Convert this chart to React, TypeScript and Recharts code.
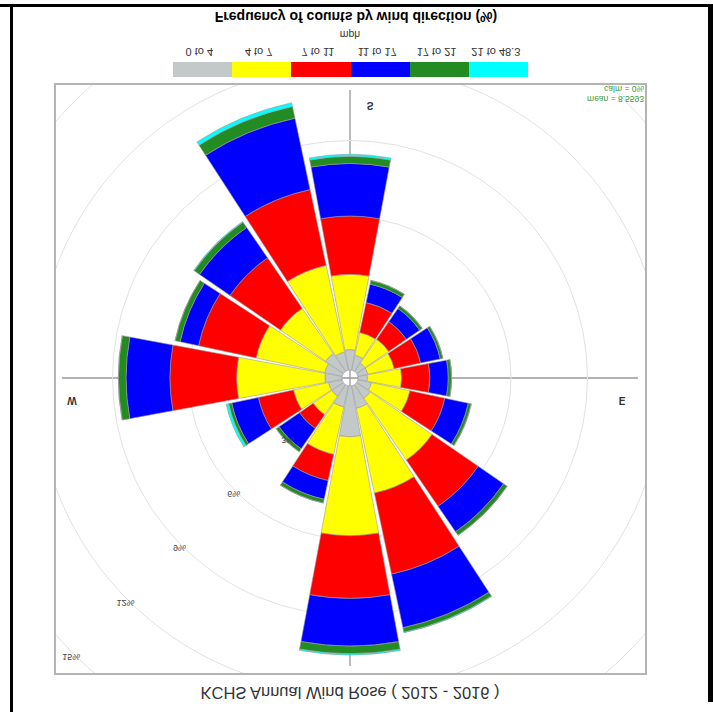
import React from "react";
import {
  RadialBarChart,
  RadialBar,
  PolarGrid,
  PolarAngleAxis,
  PolarRadiusAxis,
} from "recharts";

const directions = ["N", "NNE", "NE", "ENE", "E", "ESE", "SE", "SSE", "S", "SSW", "SW", "WSW", "W", "WNW", "NW", "NNW"];
const speed0to4 = [1.99, 0.9, 0.65, 0.55, 0.37, 0.4, 0.4, 0.6, 0.8, 0.73, 0.85, 0.7, 0.67, 0.55, 0.55, 0.85];
const speed4to7 = [3.88, 3.4, 2.94, 1.54, 1.34, 1.06, 1.13, 0.91, 2.95, 3.47, 2.15, 2.75, 3.46, 1.4, 0.89, 1.9];
const speed7to11 = [2.46, 3.25, 2.2, 1.4, 1.11, 1.06, 0.84, 1.2, 2.29, 3.04, 2.4, 2.31, 2.62, 1.41, 0.65, 1.05];
const speed11to17 = [1.87, 2.15, 1.21, 0.94, 0.72, 0.78, 0.63, 0.74, 2.06, 2.86, 1.45, 0.74, 1.72, 1.07, 0.97, 0.75];
const speed17to21 = [0.3, 0.18, 0.17, 0.12, 0.13, 0.11, 0.12, 0.15, 0.28, 0.47, 0.25, 0.2, 0.3, 0.12, 0.14, 0.15];
const speed21to48 = [0.05, 0.02, 0, 0, 0, 0, 0, 0, 0.08, 0.15, 0.03, 0, 0, 0.1, 0, 0];

const speedBins = ["0 to 4", "4 to 7", "7 to 11", "11 to 17", "17 to 21", "21 to 48.3"];
const binColors = ["#c3c9c9", "#ffff00", "#ff0000", "#0000ff", "#228b22", "#00ffff"];
const radiusTicks = [3, 6, 9, 12, 15];
const binKeys = ["b0", "b1", "b2", "b3", "b4", "b5"];
const series = [speed0to4, speed4to7, speed7to11, speed11to17, speed17to21, speed21to48];

const data = directions.map((d, i) => {
  const row: any = { dir: d };
  series.forEach((s, k) => {
    row[binKeys[k]] = s[i];
  });
  return row;
});

const FONT = "'Liberation Sans', Arial, sans-serif";

const RadiusTick = (props: any) => {
  const { x, y, payload } = props;
  return (
    <text
      x={x - 2.5}
      y={y - 2.5}
      textAnchor="middle"
      dominantBaseline="central"
      fontSize={9}
      fill="#444"
      fontFamily={FONT}
    >
      {payload.value}%
    </text>
  );
};

const CH = 800; // chart size
const C = 400; // chart centre
const INNER = 8;
const OUTER = 390.5;
const CROSS = 288;

export default function App() {
  const chartLeft = 350 - C - 56;
  const chartTop = 334 - C - 39;
  return (
    <div style={{ position: "absolute", left: 0, top: 0, width: 713, height: 712, background: "#fff", overflow: "hidden" }}>
      {/* outer frame lines (image orientation) */}
      <div style={{ position: "absolute", left: 0, top: 4, width: 713, height: 3, background: "#000" }} />
      <div style={{ position: "absolute", left: 10, top: 4, width: 2.5, height: 708, background: "#000" }} />
      <div style={{ position: "absolute", left: 708, top: 4, width: 5, height: 698, background: "#000" }} />

      {/* flipped content */}
      <div
        style={{
          position: "absolute",
          left: 0,
          top: 0,
          width: 713,
          height: 712,
          transform: "scaleY(-1)",
          transformOrigin: "50% 50%",
          fontFamily: FONT,
        }}
      >
        {/* caption */}
        <div
          style={{
            position: "absolute",
            left: 0,
            width: 700,
            top: 9,
            height: 20,
            lineHeight: "20px",
            textAlign: "center",
            fontSize: 16.5,
            color: "#333",
          }}
        >
          KCHS Annual Wind Rose ( 2012 - 2016 )
        </div>

        {/* panel */}
        <div
          style={{
            position: "absolute",
            left: 54,
            top: 37,
            width: 593,
            height: 592,
            boxSizing: "border-box",
            border: "2px solid #b4b4b4",
            overflow: "hidden",
            background: "#fff",
          }}
        >
          <svg
            width={CH}
            height={CH}
            style={{ position: "absolute", left: chartLeft, top: chartTop }}
          >
            <line x1={C} y1={C - CROSS} x2={C} y2={C + CROSS} stroke="#999" strokeWidth={1.3} />
            <line x1={C - CROSS} y1={C} x2={C + CROSS} y2={C} stroke="#999" strokeWidth={1.3} />
            <text x={C + 20} y={C - 262} fontSize={10} fontWeight="bold" fill="#333" textAnchor="middle" dominantBaseline="central" fontFamily={FONT}>N</text>
            <text x={C + 20} y={C + 273} fontSize={10} fontWeight="bold" fill="#333" textAnchor="middle" dominantBaseline="central" fontFamily={FONT}>S</text>
            <text x={C + 272} y={C - 22} fontSize={10} fontWeight="bold" fill="#333" textAnchor="middle" dominantBaseline="central" fontFamily={FONT}>E</text>
            <text x={C - 278} y={C - 22} fontSize={10} fontWeight="bold" fill="#333" textAnchor="middle" dominantBaseline="central" fontFamily={FONT}>W</text>
          </svg>
          <div style={{ position: "absolute", left: chartLeft, top: chartTop }}>
            <RadialBarChart
              width={CH}
              height={CH}
              cx={C}
              cy={C}
              innerRadius={INNER}
              outerRadius={OUTER}
              data={data}
              layout="centric"
              startAngle={78.75}
              endAngle={-281.25}
              barCategoryGap="3.5%"
              margin={{ top: 0, right: 0, bottom: 0, left: 0 }}
            >
              <PolarGrid gridType="circle" radialLines={false} stroke="#e2e2e2" strokeWidth={1} />
              <PolarAngleAxis type="category" dataKey="dir" tick={false} axisLine={false} tickLine={false} />
              <PolarRadiusAxis
                type="number"
                domain={[0, 15]}
                ticks={radiusTicks}
                angle={135}
                axisLine={false}
                tickLine={false}
                tick={RadiusTick}
              />
              {binKeys.map((k, i) => (
                <RadialBar
                  key={k}
                  dataKey={k}
                  stackId="w"
                  fill={binColors[i]}
                  stroke="#9a9a9a"
                  strokeWidth={0.6}
                  isAnimationActive={false}
                />
              ))}
            </RadialBarChart>
          </div>
        </div>

        {/* calm / mean */}
        <div style={{ position: "absolute", right: 69, top: 617, fontSize: 8.5, lineHeight: "12px", color: "#3c9a3c", textAlign: "right" }}>
          calm = 0%
        </div>
        <div style={{ position: "absolute", right: 69, top: 607, fontSize: 8.5, lineHeight: "12px", color: "#3c9a3c", textAlign: "right" }}>
          mean = 8.5593
        </div>

        {/* legend */}
        {speedBins.map((b, i) => (
          <React.Fragment key={b}>
            <div
              style={{
                position: "absolute",
                left: 172.7 + i * 59.3,
                top: 635,
                width: 59.3,
                height: 15,
                background: binColors[i],
              }}
            />
            <div
              style={{
                position: "absolute",
                left: 172.7 + i * 59.3 - 13,
                width: 79.3,
                top: 654,
                height: 13,
                lineHeight: "13px",
                fontSize: 11,
                color: "#333",
                textAlign: "center",
              }}
            >
              {b}
            </div>
          </React.Fragment>
        ))}
        <div style={{ position: "absolute", left: 0, width: 700, top: 671, height: 12, lineHeight: "12px", fontSize: 10.5, color: "#333", textAlign: "center" }}>
          mph
        </div>
        <div style={{ position: "absolute", left: 0, width: 712, top: 687, height: 17, lineHeight: "17px", fontSize: 14, fontWeight: "bold", color: "#000", textAlign: "center" }}>
          Frequency of counts by wind direction (%)
        </div>
      </div>
    </div>
  );
}
